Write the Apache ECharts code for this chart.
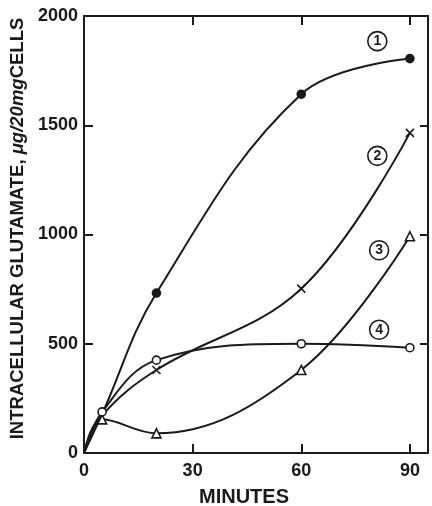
<!DOCTYPE html>
<html><head><meta charset="utf-8">
<script src="https://cdn.jsdelivr.net/npm/echarts@6/dist/echarts.min.js"></script>
<style>html,body{margin:0;padding:0;background:#fff}#chart{width:432px;height:506px}</style>
</head><body><div id="chart"></div>
<script>
// Sampling times (minutes) shared by all four curves; 0 is the common origin.
const minutes = [0, 5, 20, 60, 90];
// Intracellular glutamate, ug per 20 mg cells
const curve1 = [0, 178, 732, 1642, 1805];
const curve2 = [0, 172, 380, 752, 1465];
const curve3 = [0, 154, 90, 380, 992];
const curve4 = [0, 188, 425, 500, 482];
// Which points carry a marker on each curve
const marked1 = [false, false, true, true, true];
const marked2 = [false, false, true, true, true];
const marked3 = [false, true, true, true, true];
const marked4 = [false, true, true, true, true];
// Curve numbers and where they sit (minutes, value)
const curveNames = ['1', '2', '3', '4'];
const namePos = [[81, 1885], [81, 1360], [81.5, 928], [81.5, 564]];
const xTicks = [0, 30, 60, 90];
const yTicks = [0, 500, 1000, 1500, 2000];

const FONT = "'Liberation Sans','Arial',sans-serif";
const INK = '#1a1a1a';

const chart = echarts.init(document.getElementById('chart'), null, {renderer: 'canvas'});

const crossPath = 'path://M0,0L10,10M10,0L0,10';
const markers = [
  {symbol: 'circle', size: 8, fill: INK},
  {symbol: crossPath, size: 8, fill: 'none'},
  {symbol: 'triangle', size: 9, fill: '#fff'},
  {symbol: 'circle', size: 8, fill: '#fff'}
];
const curves = [curve1, curve2, curve3, curve4];
const marked = [marked1, marked2, marked3, marked4];

const series = curves.map((vals, i) => ({
  type: 'line',
  xAxisIndex: 0,
  yAxisIndex: 0,
  smooth: 0.38,
  lineStyle: {color: INK, width: 2},
  itemStyle: {color: markers[i].fill, borderColor: INK, borderWidth: 1.6},
  symbol: markers[i].symbol,
  symbolSize: markers[i].size,
  showAllSymbol: true,
  z: 3,
  data: vals.map((v, k) => marked[i][k]
    ? {value: [minutes[k], v]}
    : {value: [minutes[k], v], symbol: 'none'}),
  markPoint: {
    silent: true,
    symbol: 'circle',
    symbolSize: 19,
    itemStyle: {color: '#fff', borderColor: INK, borderWidth: 1.6},
    label: {show: true, formatter: curveNames[i], color: INK,
            fontFamily: FONT, fontWeight: 'bold', fontSize: 14},
    data: [{coord: namePos[i]}]
  }
}));

const labelStyle = {color: INK, fontFamily: FONT, fontWeight: 'bold', fontSize: 18,
                    formatter: v => String(v)};

chart.setOption({
  backgroundColor: '#fff',
  animation: false,
  grid: {left: 84, right: 4, top: 16, bottom: 53, containLabel: false, outerBoundsMode: 'none'},
  xAxis: [{
    type: 'value', min: 0, max: 95, interval: 30,
    position: 'bottom',
    name: 'MINUTES', nameLocation: 'middle', nameGap: 34,
    nameTextStyle: {color: INK, fontFamily: FONT, fontWeight: 'bold', fontSize: 20,
                    padding: [0, 24, 0, 0]},
    axisLine: {show: true, onZero: false, lineStyle: {color: INK, width: 2}},
    axisTick: {show: true, inside: true, length: 9, lineStyle: {color: INK, width: 2},
               customValues: xTicks.slice(1)},
    axisLabel: Object.assign({margin: 9, customValues: xTicks}, labelStyle),
    splitLine: {show: false}
  }, {
    type: 'value', min: 0, max: 95, interval: 30,
    position: 'top',
    axisLine: {show: true, onZero: false, lineStyle: {color: INK, width: 2}},
    axisTick: {show: true, inside: true, length: 9, lineStyle: {color: INK, width: 2},
               customValues: xTicks.slice(1)},
    axisLabel: {show: false},
    splitLine: {show: false}
  }],
  yAxis: [{
    type: 'value', min: 0, max: 2000, interval: 500,
    position: 'left',
    name: '{a|INTRACELLULAR GLUTAMATE, }{b|μg/20mg}{a|CELLS}',
    nameLocation: 'middle', nameGap: 48, nameRotate: 90,
    nameTextStyle: {
      padding: [0, 0, 0, 12],
      rich: {
        a: {color: INK, fontFamily: FONT, fontWeight: 'bold', fontSize: 18.5},
        b: {color: INK, fontFamily: FONT, fontWeight: 'bold', fontStyle: 'italic', fontSize: 18.5}
      }
    },
    axisLine: {show: true, onZero: false, lineStyle: {color: INK, width: 2}},
    axisTick: {show: true, inside: true, length: 9, lineStyle: {color: INK, width: 2},
               customValues: yTicks.slice(1, 4)},
    axisLabel: Object.assign({margin: 6, customValues: yTicks}, labelStyle),
    splitLine: {show: false}
  }, {
    type: 'value', min: 0, max: 2000, interval: 500,
    position: 'right',
    axisLine: {show: true, onZero: false, lineStyle: {color: INK, width: 2}},
    axisTick: {show: true, inside: true, length: 8, lineStyle: {color: INK, width: 2},
               customValues: yTicks.slice(1, 4)},
    axisLabel: {show: false},
    splitLine: {show: false}
  }],
  series: series
});
</script>
</body></html>
